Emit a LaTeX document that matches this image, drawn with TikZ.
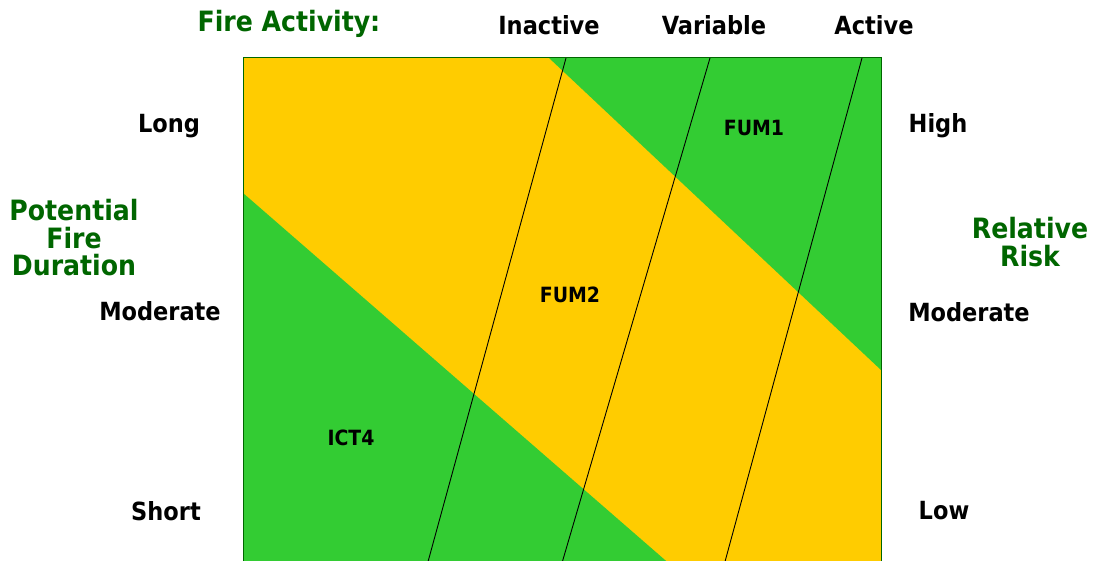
\documentclass[tikz,border=0pt]{standalone}
\usepackage{fontspec}
\setmainfont{DejaVu Sans Condensed}[BoldFont={DejaVu Sans Condensed Bold}]
\definecolor{fgreen}{HTML}{33CC33}
\definecolor{fyellow}{HTML}{FFCC00}
\definecolor{dgreen}{HTML}{006600}
\tikzset{
  lbl/.style={font=\bfseries\fontsize{25}{27}\selectfont, text=black, inner sep=0pt},
  glbl/.style={font=\bfseries\fontsize{28}{27.5}\selectfont, text=dgreen, inner sep=0pt, align=center},
  zone/.style={font=\bfseries\fontsize{21}{24}\selectfont, text=black, inner sep=0pt},
  divline/.style={black, line width=0.9pt}
}
\begin{document}
\begin{tikzpicture}[x=1pt,y=-1pt]
\useasboundingbox (0,0) rectangle (1095,561);
\begin{scope}
\clip (0,0) rectangle (1095,561);
\fill[fyellow] (243,58) rectangle (881,620);
\fill[fgreen] (549,58) -- (881,58) -- (881,370) -- cycle;
\fill[fgreen] (243,193) -- (734,620) -- (243,620) -- cycle;
\draw[divline] (566,58) -- (423,580);
\draw[divline] (710,58) -- (557,580);
\draw[divline] (862,58) -- (720,580);
\draw[dgreen, line width=1pt] (243,620) -- (243,58) -- (881,58) -- (881,620);
\end{scope}
\node[glbl] (fa) at (289,24) {Fire Activity:};
\node[lbl] (inact) at (549,25) {Inactive};
\node[lbl] (var) at (714,25) {Variable};
\node[lbl] (act) at (874,25) {Active};
\node[lbl] (long) at (169,126) {Long};
\node[lbl] (modl) at (160,311) {Moderate};
\node[lbl] (short) at (166,511) {Short};
\node[lbl] (high) at (938,126) {High};
\node[lbl] (modr) at (969,312) {Moderate};
\node[lbl] (low) at (944,511) {Low};
\node[glbl] (pfd) at (74,238) {Potential\\Fire\\Duration};
\node[glbl] (rr) at (1030,242) {Relative\\Risk};
\node[zone] (fum1) at (754,128) {FUM1};
\node[zone] (fum2) at (570,295) {FUM2};
\node[zone] (ict4) at (351,438) {ICT4};
\end{tikzpicture}
\end{document}
